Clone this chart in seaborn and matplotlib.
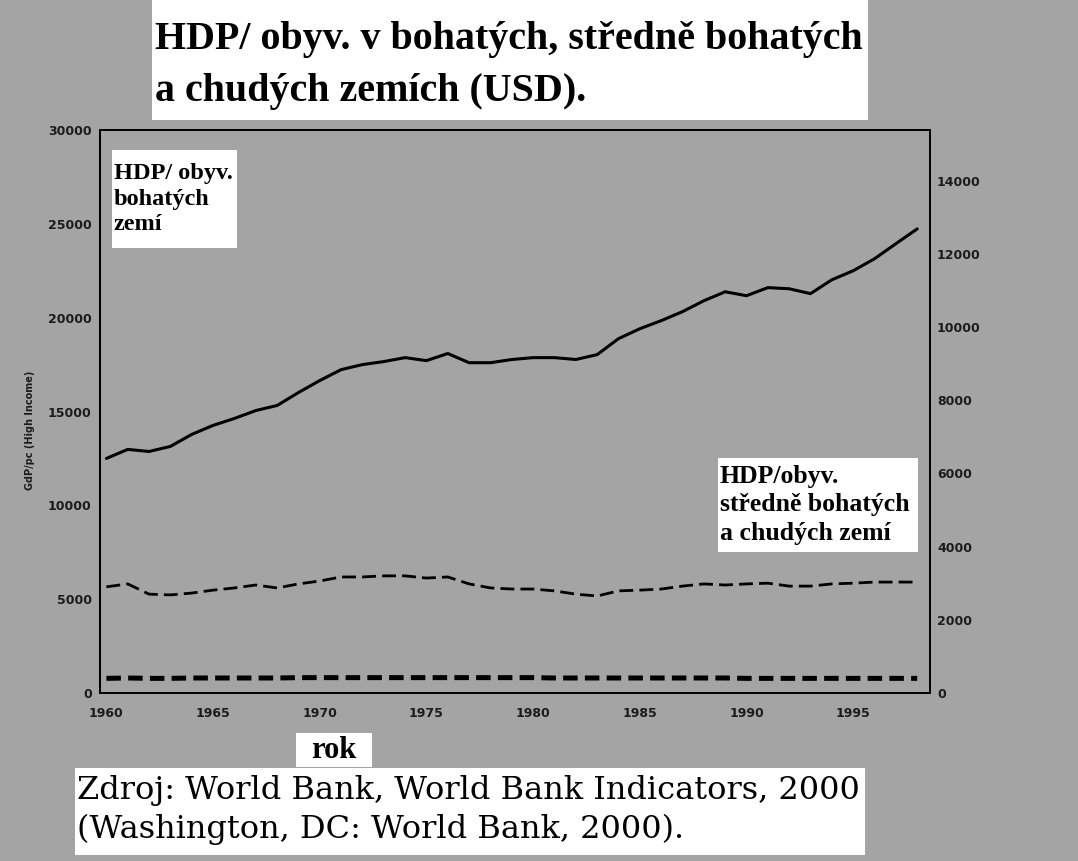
import pandas as pd
import matplotlib.pyplot as plt
import seaborn as sns
from matplotlib.patches import Rectangle

# GDP per capita (USD)
years = list(range(1960, 1999))
high_income = [12500, 12980, 12870, 13140, 13780, 14260, 14630, 15050, 15320, 16010,
               16650, 17230, 17500, 17660, 17870, 17710, 18090, 17600, 17600, 17770,
               17870, 17870, 17770, 18030, 18880, 19410, 19840, 20320, 20900, 21380,
               21170, 21600, 21540, 21280, 22020, 22500, 23140, 23940, 24730]
middle_income = [2900, 2980, 2700, 2680, 2730, 2810, 2870, 2950, 2870, 2980,
                 3060, 3170, 3170, 3200, 3200, 3140, 3170, 2980, 2870, 2840,
                 2840, 2790, 2700, 2650, 2790, 2810, 2840, 2920, 2980, 2950,
                 2980, 3000, 2920, 2920, 2980, 3000, 3030, 3030, 3030]
low_income = [400, 410, 400, 400, 410, 410, 410, 410, 410, 420,
              420, 420, 420, 420, 420, 420, 420, 420, 420, 420,
              420, 410, 410, 410, 410, 410, 410, 410, 410, 410,
              400, 400, 400, 400, 400, 400, 400, 400, 400]

left_ticks = [0, 5000, 10000, 15000, 20000, 25000, 30000]
right_ticks = [0, 2000, 4000, 6000, 8000, 10000, 12000, 14000]
x_ticks = [1960, 1965, 1970, 1975, 1980, 1985, 1990, 1995]

df = pd.DataFrame({"rok": years, "high": high_income,
                   "middle": middle_income, "low": low_income})

sns.set_theme(style="white")
plt.rcParams["font.family"] = ["DejaVu Sans"]

W, H = 1078, 861
bg = "#a4a4a4"
fig = plt.figure(figsize=(W / 100, H / 100), dpi=100, facecolor=bg)
ax = fig.add_axes([100 / W, 1 - 693 / H, 830 / W, 563 / H])
ax.set_facecolor("none")
ax2 = ax.twinx()

sns.lineplot(data=df, x="rok", y="high", ax=ax, color="black", linewidth=2.2)
sns.lineplot(data=df, x="rok", y="middle", ax=ax2, color="black", linewidth=2.0)
sns.lineplot(data=df, x="rok", y="low", ax=ax2, color="black", linewidth=3.6)
ax2.lines[0].set_dashes((5, 2.2))
ax2.lines[1].set_dashes((2.9, 1.45))

ax.set_xlim(1959.7, 1998.6)
ax.set_ylim(0, 30000)
ax2.set_ylim(0, 15380)
ax.set_xticks(x_ticks)
ax.set_yticks(left_ticks)
ax2.set_yticks(right_ticks)
ax.set_xlabel("")
ax.set_ylabel("")
ax2.set_ylabel("")

tick_font = dict(fontsize=9, fontweight="bold", color="#1c1c1c")
ax.set_xticklabels([str(t) for t in x_ticks], **tick_font)
ax.set_yticklabels([str(t) for t in left_ticks], **tick_font)
ax2.set_yticklabels([str(t) for t in right_ticks], **tick_font)
ax.tick_params(axis="x", length=0, pad=10)
ax.tick_params(axis="y", length=0, pad=6)
ax2.tick_params(axis="y", length=0, pad=5)
for a in (ax, ax2):
    for s in a.spines.values():
        s.set_color("black")
        s.set_linewidth(1.4)

fig.text(30 / W, 1 - 430 / H, "GdP/pc (High Income)", rotation=90,
         fontsize=7, fontweight="bold", color="#1c1c1c", ha="center", va="center")


def white_box(x0, y0, x1, y1):
    fig.patches.append(Rectangle((x0 / W, 1 - y1 / H), (x1 - x0) / W, (y1 - y0) / H,
                                 transform=fig.transFigure, facecolor="white",
                                 edgecolor="none", zorder=2))


serif_b = dict(family=["Liberation Serif", "DejaVu Serif"], fontweight="bold", color="black")

# title
white_box(152, 0, 868, 120)
fig.text(155 / W, 1 - 40 / H, "HDP/ obyv. v bohatých, středně bohatých",
         fontsize=28.8, va="center", ha="left", zorder=3, **serif_b)
fig.text(155 / W, 1 - 92 / H, "a chudých zemích (USD).",
         fontsize=28.8, va="center", ha="left", zorder=3, **serif_b)

# series labels
white_box(112, 150, 237, 248)
fig.text(114 / W, 1 - 199 / H, "HDP/ obyv.\nbohatých\nzemí", fontsize=17.5,
         linespacing=1.3, va="center", ha="left", zorder=3, **serif_b)
white_box(718, 458, 918, 552)
fig.text(720 / W, 1 - 505 / H, "HDP/obyv.\nstředně bohatých\na chudých zemí", fontsize=18.5,
         linespacing=1.3, va="center", ha="left", zorder=3, **serif_b)

# x label
white_box(296, 733, 372, 767)
fig.text(334 / W, 1 - 750 / H, "rok", fontsize=22, va="center", ha="center",
         zorder=3, **serif_b)

# source
white_box(75, 768, 865, 855)
fig.text(77 / W, 1 - 790 / H, "Zdroj: World Bank, World Bank Indicators, 2000",
         fontsize=23, va="center", ha="left", zorder=3, color="black", family="DejaVu Serif")
fig.text(77 / W, 1 - 829 / H, "(Washington, DC: World Bank, 2000).",
         fontsize=23, va="center", ha="left", zorder=3, color="black", family="DejaVu Serif")

fig.savefig("out.png", dpi=100, facecolor=bg)
